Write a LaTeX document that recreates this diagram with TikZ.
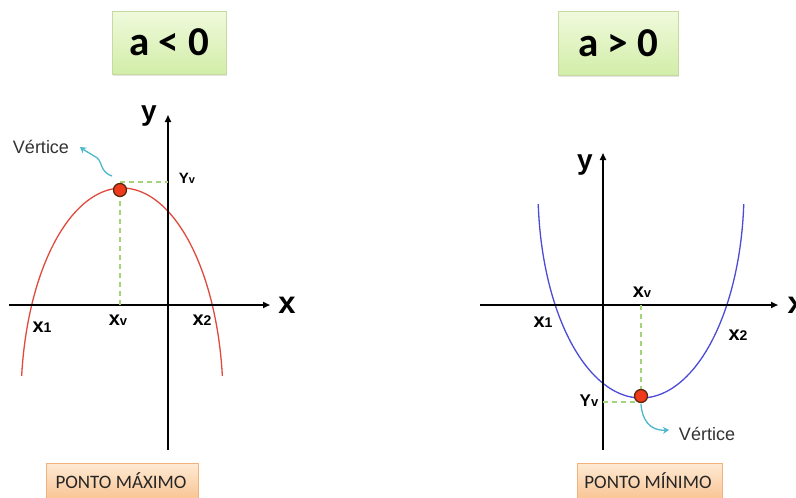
\documentclass[tikz,border=0pt]{standalone}
\usepackage{fontspec}
\usetikzlibrary{arrows.meta,shadows}
\newfontfamily\calib{Carlito}
\newfontfamily\arialf{Liberation Sans}
\definecolor{redc}{HTML}{E04A3C}
\definecolor{bluec}{HTML}{4B4BD6}
\definecolor{dotf}{HTML}{F03A1E}
\definecolor{dotd}{HTML}{5A2A10}
\definecolor{gdashc}{HTML}{A4D47A}
\definecolor{cyanc}{HTML}{4CB8CC}
\definecolor{gtop}{HTML}{F0FADC}
\definecolor{gbot}{HTML}{D2EDA8}
\definecolor{gbrd}{HTML}{C5D9A0}
\definecolor{otop}{HTML}{FEEAD4}
\definecolor{obot}{HTML}{F9C290}
\definecolor{obrd}{HTML}{F2B27C}
\newcommand\mylbl[4]{{\arialf\bfseries\fontsize{#1}{#1}\selectfont #2\fontsize{#3}{#3}\selectfont #4}}
\tikzset{
  titlebox/.style={draw=gbrd, line width=0.6pt, top color=gtop, bottom color=gbot,
    inner sep=0pt, font=\calib\bfseries\fontsize{41}{41}\selectfont,
    drop shadow={opacity=0.2, shadow xshift=1pt, shadow yshift=-1.5pt}},
  pontobox/.style={draw=obrd, line width=0.6pt, top color=otop, bottom color=obot,
    inner sep=0pt, font=\calib\fontsize{19}{19}\selectfont, text=black!85},
  axis/.style={line width=1.7pt, -{Triangle[length=7pt,width=6pt]}},
  gdash/.style={gdashc, line width=1.6pt, dash pattern=on 5pt off 4pt},
  vdot/.style={circle, fill=dotf, draw=dotd, line width=1.3pt, minimum size=13pt, inner sep=0pt},
  cyarrow/.style={cyanc, line width=1.3pt, -{Stealth[length=6pt,width=7pt,inset=2pt]}},
  vtext/.style={font=\arialf\fontsize{18}{18}\selectfont, text=black!80},
  axlbl/.style={font=\arialf\bfseries\fontsize{28}{28}\selectfont},
}
\begin{document}
\begin{tikzpicture}[x=1pt,y=-1pt]
\useasboundingbox (0,0) rectangle (796,498);
\fill[white] (0,0) rectangle (796,498);
\clip (0,0) rectangle (796,498);

% ---------- left panel ----------
\node[titlebox, minimum width=114pt, minimum height=63pt] (lt) at (169,42.5) {a < 0};

\coordinate (lxs) at (9,305);
\coordinate (lxe) at (270,305);
\coordinate (lys) at (168,450);
\coordinate (lye) at (168,115);
\coordinate (lyv) at (168,182);

\draw[redc, line width=1.3pt] plot[domain=6.5:173.5, samples=120, smooth] ({122+101*cos(\x)},{400-212*sin(\x)});

\draw[axis] (lxs) -- (lxe);
\draw[axis] (lys) -- (lye);

\coordinate (lvc) at (120,190);
\draw[gdash] (lvc |- lxs) -- (lvc);
\draw[gdash] (lvc |- lyv) -- (lyv);
\node[vdot] (lv) at (lvc) {};

\coordinate (lva) at (80,147);
\draw[cyarrow] (112,176) .. controls (98,171) and (104,160) .. (94,156) .. controls (88,153) .. (lva);

\node[vtext] (lvt) at (41,147) {Vértice};
\node[axlbl] (ly) at (149,116) {y};
\node[axlbl, font=\arialf\bfseries\fontsize{31}{31}\selectfont] (lx) at (287,305) {x};
\node (lyvl) at (187,178) {\mylbl{15}{Y}{11}{v}};
\node (lx1) at (42,327) {\mylbl{20}{x}{14}{1}};
\node (lxv) at (118,320) {\mylbl{20}{x}{13}{v}};
\node (lx2) at (202,320) {\mylbl{20}{x}{14}{2}};

\node[pontobox, minimum width=152pt, minimum height=38pt, anchor=north west] (lp) at (46,463) {};
\node[font=\calib\fontsize{19}{19}\selectfont, text=black!85] (lpt) at (121,481) {PONTO MÁXIMO};

% ---------- right panel ----------
\node[titlebox, minimum width=120pt, minimum height=64pt] (rt) at (618,43.5) {a > 0};

\coordinate (rxs) at (480,305);
\coordinate (rxe) at (778,305);
\coordinate (rys) at (603,450);
\coordinate (rye) at (603,153);
\coordinate (ryv) at (603,402);

\draw[bluec, line width=1.3pt] plot[domain=3.9:176.1, samples=120, smooth] ({641+103*cos(\x)},{190+208*sin(\x)});

\draw[axis] (rxs) -- (rxe);
\draw[axis] (rys) -- (rye);

\coordinate (rvc) at (641,396);
\draw[gdash] (rvc |- rxs) -- (rvc);
\draw[gdash] (ryv) -- (rvc |- ryv);
\node[vdot] (rv) at (rvc) {};

\coordinate (rva) at (669,430);
\draw[cyarrow] (641,404) .. controls (642,420) and (650,431) .. (rva);

\node[vtext] (rvt) at (707,434) {Vértice};
\node[axlbl] (ry) at (585,165) {y};
\node[axlbl, font=\arialf\bfseries\fontsize{31}{31}\selectfont, anchor=west] (rx) at (784,305) {x};
\node (ryvl) at (589,401) {\mylbl{17}{Y}{13}{v}};
\node (rxv) at (642,292) {\mylbl{20}{x}{13}{v}};
\node (rx1) at (543,322) {\mylbl{20}{x}{14}{1}};
\node (rx2) at (738,335) {\mylbl{20}{x}{14}{2}};

\node[pontobox, minimum width=145pt, minimum height=38pt, anchor=north west] (rp) at (577,463) {};
\node[font=\calib\fontsize{19}{19}\selectfont, text=black!85] (rpt) at (648,481) {PONTO MÍNIMO};
\end{tikzpicture}
\end{document}
